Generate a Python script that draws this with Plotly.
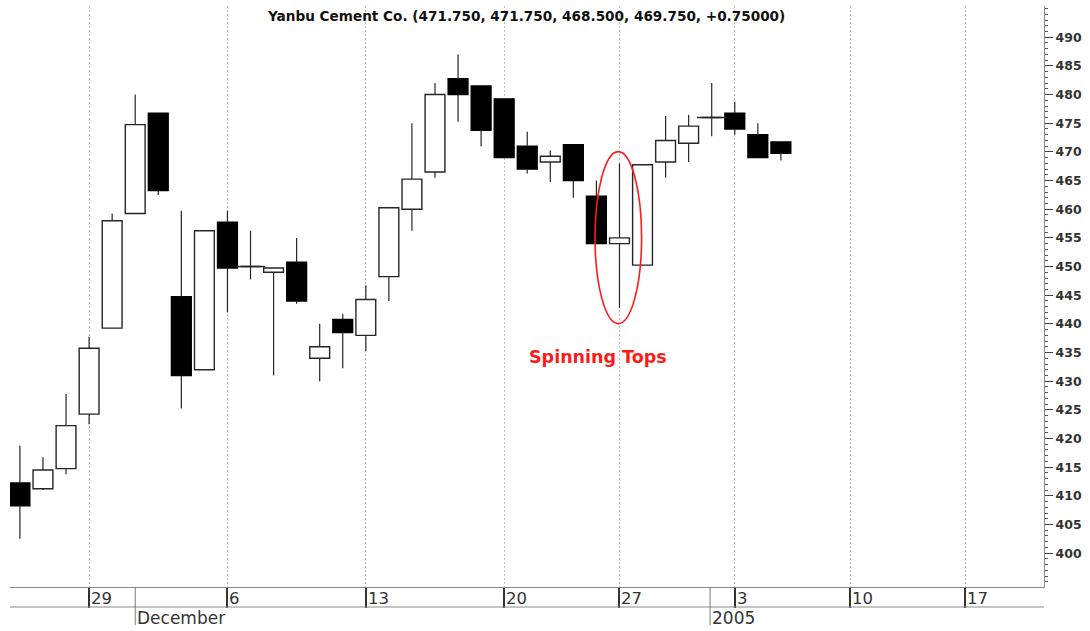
import plotly.graph_objects as go

# Daily OHLC prices, one entry per trading session (x = session index)
sessions = list(range(34))
open_px = [412.25, 411.25, 414.75, 424.25, 439.25, 459.25, 476.75, 444.75, 432.0, 457.75,
           450.0, 449.0, 450.75, 434.0, 440.75, 438.0, 448.25, 460.0, 466.5, 482.75,
           481.5, 479.25, 471.0, 468.25, 471.25, 462.25, 454.0, 450.25, 468.25, 471.5,
           476.0, 476.75, 473.0, 471.75]
high_px = [418.75, 416.75, 427.75, 437.75, 459.25, 480.0, 476.75, 459.75, 456.25, 459.75,
           456.25, 449.75, 455.0, 440.0, 441.75, 446.75, 460.25, 475.0, 482.0, 487.0,
           481.5, 479.25, 473.5, 470.25, 471.25, 465.0, 468.0, 467.75, 476.25, 476.5,
           482.0, 478.75, 475.0, 471.75]
low_px = [402.5, 411.0, 413.75, 422.5, 439.25, 459.25, 462.5, 425.25, 432.0, 442.0,
          447.75, 431.0, 443.5, 430.0, 432.25, 435.25, 444.0, 456.25, 465.5, 475.25,
          471.0, 469.0, 466.25, 464.75, 462.0, 454.0, 442.75, 450.25, 465.5, 468.25,
          472.75, 473.0, 469.0, 468.5]
close_px = [408.25, 414.5, 422.25, 435.75, 458.0, 474.75, 463.25, 431.0, 456.25, 449.75,
            450.0, 449.75, 444.0, 436.0, 438.5, 444.25, 460.25, 465.25, 480.0, 480.0,
            473.75, 469.0, 467.0, 469.25, 465.0, 454.0, 455.0, 467.75, 472.0, 474.5,
            476.0, 474.0, 469.0, 469.75]

# Week-start sessions and their day-of-month labels
week_ticks = [3, 9, 15, 21, 26, 31, 36, 41]
week_labels = ["29", "6", "13", "20", "27", "3", "10", "17"]
# Month / year markers on the second label row
month_pos = [5.0, 29.93]
month_labels = ["December", "2005"]

price_ticks = list(range(400, 491, 5))

title_text = "Yanbu Cement Co. (471.750, 471.750, 468.500, 469.750, +0.75000)"
note_text = "Spinning Tops"

FONT = "DejaVu Sans"
PLOT_H = 581  # plot area height in px (used to place the label rows)
BODY_W = 0.86  # candle body width in session units
INK = "#262626"

# ---- candle geometry derived from the OHLC lists ----
body_lo = [min(o, c) for o, c in zip(open_px, close_px)]
body_hi = [max(o, c) for o, c in zip(open_px, close_px)]
body_len = [h - l for h, l in zip(body_hi, body_lo)]
body_fill = ["white" if c > o else "black" for o, c in zip(open_px, close_px)]
body_edge = [INK if c > o else "black" for o, c in zip(open_px, close_px)]

# wick segments: low -> bottom of body, top of body -> high
wick_x, wick_y = [], []
for i, lo, hi, blo, bhi in zip(sessions, low_px, high_px, body_lo, body_hi):
    if lo < blo:
        wick_x += [i, i, None]
        wick_y += [lo, blo, None]
    if hi > bhi:
        wick_x += [i, i, None]
        wick_y += [bhi, hi, None]

doji_x = [i for i, o, c in zip(sessions, open_px, close_px) if o == c]
doji_y = [open_px[i] for i in doji_x]

fig = go.Figure()
fig.add_trace(go.Scatter(
    x=wick_x, y=wick_y, mode="lines", line=dict(color=INK, width=1.2),
    hoverinfo="skip", showlegend=False,
))
fig.add_trace(go.Bar(
    x=sessions, y=body_len, base=body_lo, width=BODY_W,
    marker=dict(color=body_fill, line=dict(color=body_edge, width=1.4)),
    hoverinfo="skip", showlegend=False,
))
fig.add_trace(go.Scatter(
    x=doji_x, y=doji_y, mode="markers",
    marker=dict(symbol="line-ew", size=21, line=dict(color=INK, width=1.5)),
    hoverinfo="skip", showlegend=False,
))

shapes = []
# second horizontal rule of the date band
shapes.append(dict(type="line", xref="paper", yref="paper", x0=0, x1=1,
                   y0=-20 / PLOT_H, y1=-20 / PLOT_H, line=dict(color="#8a8a8a", width=1)))
# month separators spanning both label rows
for p in month_pos:
    shapes.append(dict(type="line", xref="x", yref="paper", x0=p, x1=p,
                       y0=0, y1=-38 / PLOT_H, line=dict(color="#777777", width=1)))
# highlight ellipse around the spinning tops
shapes.append(dict(type="circle", xref="x", yref="y", x0=24.94, x1=26.96,
                   y0=440.05, y1=470.05, line=dict(color="#ff1a1a", width=1.6)))

annotations = []
annotations.append(dict(text=title_text, xref="paper", yref="paper", x=0.4995,
                        y=(587 - 16) / PLOT_H, xanchor="center", yanchor="middle",
                        showarrow=False,
                        font=dict(family=FONT, size=13.6, color="#111111", weight="bold")))
for t, lab in zip(week_ticks, week_labels):
    annotations.append(dict(text=lab, xref="x", yref="paper", x=t, y=-11.8 / PLOT_H,
                            xanchor="left", yanchor="middle", xshift=0, showarrow=False,
                            font=dict(family=FONT, size=16.5, color="#333333")))
for p, lab in zip(month_pos, month_labels):
    annotations.append(dict(text=lab, xref="x", yref="paper", x=p, y=-31.3 / PLOT_H,
                            xanchor="left", yanchor="middle", xshift=0, showarrow=False,
                            font=dict(family=FONT, size=17, color="#333333")))
annotations.append(dict(text=note_text, xref="x", yref="y", x=25.07, y=434.25,
                        xanchor="center", yanchor="middle", showarrow=False,
                        font=dict(family=FONT, size=17.5, color="#ff1a1a", weight="bold")))

fig.update_layout(
    width=1090, height=631,
    margin=dict(l=10, r=46, t=6, b=44),
    paper_bgcolor="white", plot_bgcolor="white",
    showlegend=False, barmode="overlay",
    shapes=shapes, annotations=annotations,
    xaxis=dict(
        range=[-0.43, 44.41], tickmode="array", tickvals=week_ticks,
        showticklabels=False, ticks="outside", ticklen=20, tickwidth=1.5,
        tickcolor="#333333",
        showgrid=True, gridcolor="#bdbdbd", gridwidth=1, griddash="2px,2px",
        showline=True, linecolor="#8a8a8a", linewidth=1, zeroline=False,
        fixedrange=True,
    ),
    yaxis=dict(
        side="right", range=[394.1, 495.45], tickmode="array", tickvals=price_ticks,
        ticks="outside", ticklen=8, tickwidth=1, tickcolor="#444444",
        tickfont=dict(family=FONT, size=12.5, color="#333333", weight="bold"),
        minor=dict(tickmode="linear", tick0=0, dtick=1, ticks="outside", ticklen=3,
                   tickcolor="#555555", showgrid=False),
        showgrid=False, showline=True, linecolor="#8a8a8a", linewidth=1,
        zeroline=False, fixedrange=True,
    ),
)

fig.write_html("out.html")
